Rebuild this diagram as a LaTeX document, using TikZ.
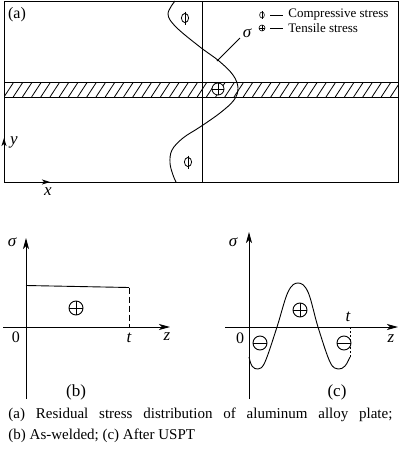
\documentclass[tikz,border=0pt]{standalone}
\usepackage{fontspec}
\setmainfont{Liberation Serif}
\usetikzlibrary{arrows.meta}
\begin{document}
\begin{tikzpicture}[x=1pt,y=-1pt, line width=0.9pt,
  lbl/.style={font=\fontsize{16}{18}\selectfont, inner sep=0pt},
  ilbl/.style={font=\fontsize{17}{18}\selectfont\itshape, inner sep=0pt},
  sublbl/.style={font=\fontsize{17}{19}\selectfont, inner sep=0pt},
  leg/.style={font=\fontsize{13}{15}\selectfont, inner sep=0pt, anchor=west},
  ax/.style={-{Stealth[length=11pt,width=6pt,inset=3pt]}, line width=0.9pt},
  smallax/.style={-{Stealth[length=8pt,width=5pt,inset=2pt]}, line width=0.9pt},
  compr/.pic={\draw[line width=0.8pt] (0,0) ellipse (3.6 and 4.6); \draw[line width=0.8pt] (0,-6.5)--(0,6.5);},
  comprs/.pic={\draw[line width=0.6pt] (0,0) ellipse (2.4 and 3); \draw[line width=0.6pt] (0,-4)--(0,4);},
  tens/.pic={\draw[line width=0.8pt, fill=white] (0,0) circle (6); \draw[line width=0.8pt] (-6,0)--(6,0) (0,-6)--(0,6);},
  tenss/.pic={\draw[line width=0.6pt] (0,0) circle (3); \draw[line width=0.6pt] (-3,0)--(3,0) (0,-3)--(0,3);},
  tensb/.pic={\draw[line width=0.9pt] (0,0) circle (7); \draw[line width=0.9pt] (-7,0)--(7,0) (0,-7)--(0,7);},
  comprb/.pic={\draw[line width=0.9pt, fill=white] (0,0) circle (7); \draw[line width=0.9pt] (-7,0)--(7,0);}
]
\useasboundingbox (0,0) rectangle (400,453);

% ---------- (a) ----------
\begin{scope}
  \clip (4,82.5) rectangle (398,97);
  \foreach \i in {-2,...,44} \draw[line width=0.8pt] (4+\i*9.2,97) -- ++(9.5,-14.5);
\end{scope}
\draw (4,1) rectangle (398,182);
\draw (4,82.5) -- (398,82.5) (4,97) -- (398,97);
\draw (202,1) -- (202,182);
\draw plot[smooth,tension=0.6] coordinates {(175,1) (168,14) (176,27) (200,47) (219,61) (233,75) (238,88) (234,100) (220,113) (200,127) (183,138) (172,150) (170,163) (173,175) (176,182)};
\node[lbl] (la) at (17,15) {(a)};
\pic at (185,18) {compr};
\pic at (188,162) {compr};
\pic at (218,89) {tens};
\coordinate (sA) at (217,61);
\coordinate (sB) at (240,38);
\draw[line width=0.8pt] (sA) -- (sB);
\node[ilbl] (sig) at (247,33) {σ};
\pic at (262,15) {comprs};
\pic at (262,28) {tenss};
\draw[line width=0.7pt] (270,15) -- (283,15) (270,28) -- (283,28);
\node[leg] (lc) at (288,15) {Compressive stress};
\node[leg] (lt) at (288,28) {Tensile stress};
\coordinate (ya) at (4,150);
\coordinate (yb) at (4,138);
\draw[smallax] (ya) -- (yb);
\node[ilbl] (ly) at (14,142) {y};
\coordinate (xa) at (30,182);
\coordinate (xb) at (50,182);
\draw[smallax] (xa) -- (xb);
\node[ilbl] (lx) at (48,192) {x};

% ---------- (b) ----------
\coordinate (b0) at (26,399);
\coordinate (b1) at (26,238);
\coordinate (bz0) at (3,327);
\coordinate (bz1) at (170,327);
\draw[ax] (b0) -- (b1);
\draw[ax] (bz0) -- (bz1);
\coordinate (bt0) at (26,285.5);
\coordinate (bt1) at (129,287.5);
\coordinate (bt2) at (129,327);
\draw (bt0) -- (bt1);
\draw[dashed, dash pattern=on 6pt off 3pt] (bt1) -- (bt2);
\pic at (76,308) {tensb};
\node[ilbl] (bs) at (12,242) {σ};
\node[lbl] (b00) at (16,337) {0};
\node[ilbl] (bt) at (129,338) {t};
\node[ilbl] (bz) at (167,337) {z};
\node[sublbl] (lb) at (76,392) {(b)};

% ---------- (c) ----------
\coordinate (c0) at (249,399);
\coordinate (c1) at (249,232);
\coordinate (cz0) at (225,327);
\coordinate (cz1) at (398,327);
\draw[ax] (c0) -- (c1);
\draw[ax] (cz0) -- (cz1);
\draw plot[smooth,tension=0.6] coordinates {(249,357) (252,366) (258,369) (265,362) (277,327) (288,292) (298,283) (308,292) (318,327) (330,362) (338,369) (345,366) (350,357)};
\coordinate (cd0) at (350,357);
\coordinate (cd1) at (350,327);
\draw[dashed, dash pattern=on 2.5pt off 1.5pt, line width=0.7pt] (cd0) -- (cd1);
\pic at (260,343) {comprb};
\pic at (344,343) {comprb};
\pic at (300,310) {tensb};
\node[ilbl] (cs) at (233,242) {σ};
\node[lbl] (c00) at (240,338) {0};
\node[ilbl] (ct) at (348,317) {t};
\node[ilbl] (cz) at (391,339) {z};
\node[sublbl] (lc2) at (337,392) {(c)};

% ---------- caption ----------
\node[anchor=north west, inner sep=0pt, text width=384pt, align=justify,
      font=\fontsize{15}{21}\selectfont] (cap) at (8,407)
  {(a) Residual stress distribution of aluminum alloy plate;\linebreak (b) As-welded; (c) After USPT};
\end{tikzpicture}
\end{document}
